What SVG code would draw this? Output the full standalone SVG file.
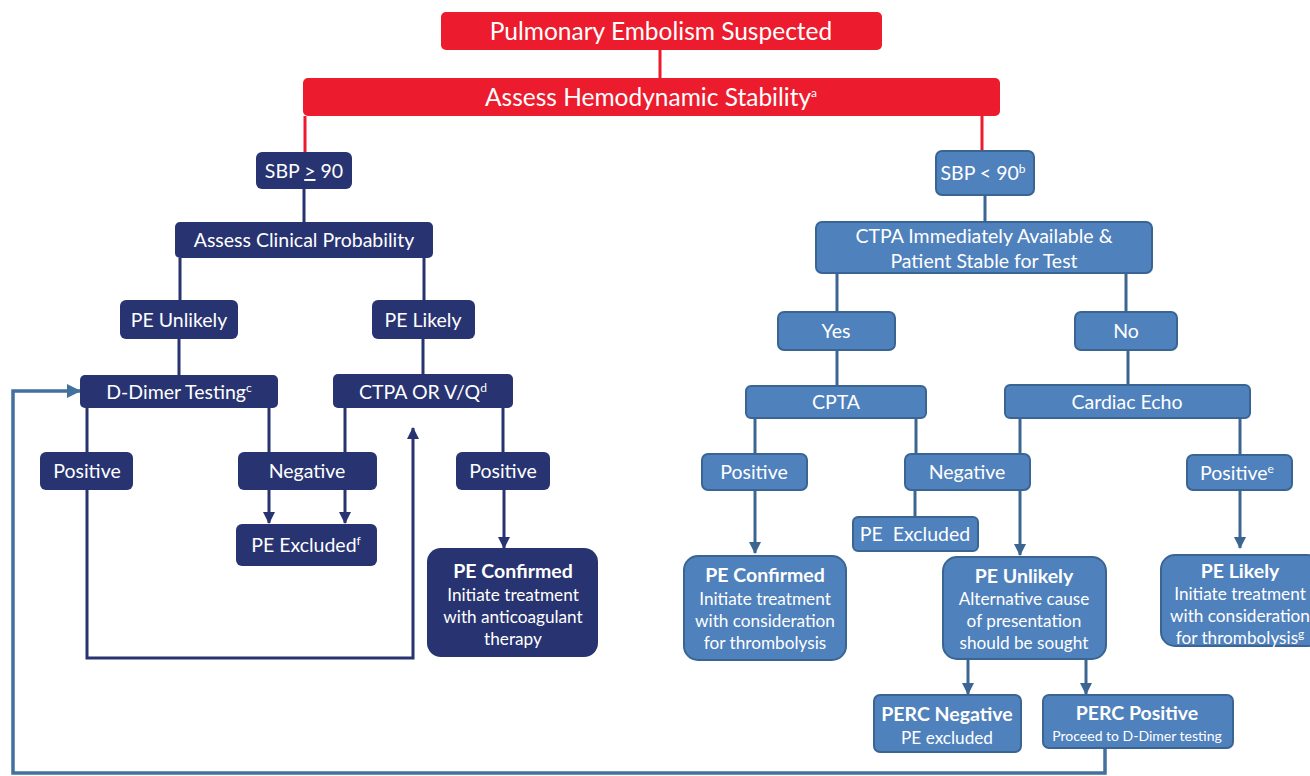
<svg xmlns="http://www.w3.org/2000/svg" width="1310" height="776" viewBox="0 0 1310 776">
<defs>
<style>
text{font-family:Lato,"Open Sans","Liberation Sans",sans-serif;fill:#fff;text-anchor:middle}
.red{fill:#EC1C2E}
.navy{fill:#283371}
.blue{fill:#4F81BD;stroke:#3A6593;stroke-width:2}
.t22{font-size:24.5px}
.t18{font-size:19.5px}
.t16{font-size:17.2px}
.t13{font-size:14px}
.b{font-weight:bold}
.sup{font-size:12px}
.lr{stroke:#EC1C2E;stroke-width:3;fill:none}
.ln{stroke:#283371;stroke-width:3;fill:none}
.lb{stroke:#3D6592;stroke-width:3;fill:none}
.lf{stroke:#41719C;stroke-width:3.5;fill:none}
</style>
<marker id="an" markerUnits="userSpaceOnUse" markerWidth="12" markerHeight="12" refX="11" refY="6" orient="auto"><path d="M0,0 L12,6 L0,12 z" fill="#283371"/></marker>
<marker id="ab" markerUnits="userSpaceOnUse" markerWidth="12" markerHeight="12" refX="11" refY="6" orient="auto"><path d="M0,0 L12,6 L0,12 z" fill="#3D6592"/></marker>
<marker id="af" markerUnits="userSpaceOnUse" markerWidth="14" markerHeight="14" refX="13" refY="7" orient="auto"><path d="M0,0 L14,7 L0,14 z" fill="#41719C"/></marker>
</defs>
<rect width="1310" height="776" fill="#fff"/>
<g id="connectors">
<path class="lr" d="M660,50V78 M305,116V153 M982,116V152"/>
<path class="ln" d="M304,189V222 M180,258V300 M424,258V300 M179,339V375 M423,339V374 M87,408V452 M269,408V452 M345,408V452 M503,408V452"/>
<path class="ln" marker-end="url(#an)" d="M269,490V523"/>
<path class="ln" marker-end="url(#an)" d="M345,490V523"/>
<path class="ln" marker-end="url(#an)" d="M504,490V548"/>
<path class="ln" marker-end="url(#an)" d="M87,490V658H413V428"/>
<path class="lb" d="M985,195V222 M837,273V312 M1126,273V312 M837,350V386 M1128,350V385 M755,418V454 M916,418V454 M1020,418V454 M1240,418V455 M915,490V517"/>
<path class="lb" marker-end="url(#ab)" d="M755,490V553"/>
<path class="lb" marker-end="url(#ab)" d="M1020,490V555"/>
<path class="lb" marker-end="url(#ab)" d="M1240,490V548"/>
<path class="lb" marker-end="url(#ab)" d="M968,659V694"/>
<path class="lb" marker-end="url(#ab)" d="M1086,659V694"/>
<path class="lf" marker-end="url(#af)" d="M1105,748V773H13V391H80"/>
</g>
<g id="pe-suspected"><rect class="red" x="441" y="12" width="441" height="38" rx="5"/><text class="t22" x="661" y="40">Pulmonary Embolism Suspected</text></g>
<g id="assess-hemo"><rect class="red" x="303" y="78" width="697" height="38" rx="5"/><text class="t22" x="651" y="106">Assess Hemodynamic Stability<tspan class="sup" dy="-9">a</tspan></text></g>
<g id="sbp-ge-90"><rect class="navy" x="256" y="152" width="96" height="37" rx="6"/><text class="t18" x="304" y="178">SBP <tspan text-decoration="underline">&gt;</tspan> 90</text></g>
<g id="assess-clinical"><rect class="navy" x="175" y="222" width="258" height="36" rx="5"/><text class="t18" x="304" y="247">Assess Clinical Probability</text></g>
<g id="pe-unlikely-l"><rect class="navy" x="120" y="300" width="118" height="39" rx="6"/><text class="t18" x="179" y="327">PE Unlikely</text></g>
<g id="pe-likely-l"><rect class="navy" x="372" y="300" width="103" height="39" rx="6"/><text class="t18" x="423" y="327">PE Likely</text></g>
<g id="d-dimer"><rect class="navy" x="80" y="375" width="198" height="33" rx="5"/><text class="t18" x="179" y="399">D-Dimer Testing<tspan class="sup" dy="-7">c</tspan></text></g>
<g id="ctpa-vq"><rect class="navy" x="333" y="374" width="180" height="34" rx="5"/><text class="t18" x="423" y="399">CTPA OR V/Q<tspan class="sup" dy="-7">d</tspan></text></g>
<g id="positive-l1"><rect class="navy" x="40" y="452" width="93" height="38" rx="6"/><text class="t18" x="87" y="478">Positive</text></g>
<g id="negative-l"><rect class="navy" x="238" y="452" width="139" height="38" rx="6"/><text class="t18" x="307" y="478">Negative</text></g>
<g id="positive-l2"><rect class="navy" x="456" y="452" width="94" height="38" rx="6"/><text class="t18" x="503" y="478">Positive</text></g>
<g id="pe-excluded-l"><rect class="navy" x="236" y="524" width="141" height="42" rx="6"/><text class="t18" x="306" y="552">PE Excluded<tspan class="sup" dy="-7">f</tspan></text></g>
<g id="pe-confirmed-l"><rect class="navy" x="427" y="548" width="171" height="109" rx="14"/><text class="t18 b" x="513" y="578">PE Confirmed</text><text class="t16" x="513" y="601">Initiate treatment</text><text class="t16" x="513" y="623">with anticoagulant</text><text class="t16" x="513" y="645">therapy</text></g>
<g id="sbp-lt-90"><rect class="blue" x="936" y="151" width="98" height="44" rx="6"/><text class="t18" x="983" y="180">SBP &lt; 90<tspan class="sup" dy="-7">b</tspan></text></g>
<g id="ctpa-available"><rect class="blue" x="816" y="222" width="336" height="51" rx="6"/><text class="t18" x="984" y="243">CTPA Immediately Available &amp;</text><text class="t18" x="984" y="268">Patient Stable for Test</text></g>
<g id="yes"><rect class="blue" x="778" y="312" width="117" height="38" rx="6"/><text class="t18" x="836" y="338">Yes</text></g>
<g id="no"><rect class="blue" x="1075" y="312" width="102" height="38" rx="6"/><text class="t18" x="1126" y="338">No</text></g>
<g id="cpta"><rect class="blue" x="746" y="386" width="180" height="32" rx="5"/><text class="t18" x="836" y="409">CPTA</text></g>
<g id="cardiac-echo"><rect class="blue" x="1005" y="385" width="245" height="33" rx="5"/><text class="t18" x="1127" y="409">Cardiac Echo</text></g>
<g id="positive-r1"><rect class="blue" x="702" y="454" width="105" height="36" rx="6"/><text class="t18" x="754" y="479">Positive</text></g>
<g id="negative-r"><rect class="blue" x="905" y="454" width="125" height="36" rx="6"/><text class="t18" x="967" y="479">Negative</text></g>
<g id="positive-r2"><rect class="blue" x="1187" y="455" width="105" height="35" rx="6"/><text class="t18" x="1237" y="480">Positive<tspan class="sup" dy="-7">e</tspan></text></g>
<g id="pe-excluded-r"><rect class="blue" x="853" y="517" width="125" height="34" rx="5"/><text class="t18" x="915" y="541" xml:space="preserve">PE  Excluded</text></g>
<g id="pe-confirmed-r"><rect class="blue" x="684" y="556" width="162" height="104" rx="14"/><text class="t18 b" x="765" y="582">PE Confirmed</text><text class="t16" x="765" y="605">Initiate treatment</text><text class="t16" x="765" y="627">with consideration</text><text class="t16" x="765" y="649">for thrombolysis</text></g>
<g id="pe-unlikely-r"><rect class="blue" x="943" y="557" width="163" height="102" rx="14"/><text class="t18 b" x="1024" y="583">PE Unlikely</text><text class="t16" x="1024" y="605">Alternative cause</text><text class="t16" x="1024" y="627">of presentation</text><text class="t16" x="1024" y="649">should be sought</text></g>
<g id="pe-likely-r"><rect class="blue" x="1161" y="555" width="160" height="91" rx="14"/><text class="t18 b" x="1240" y="578">PE Likely</text><text class="t16" x="1240" y="600">Initiate treatment</text><text class="t16" x="1240" y="622">with consideration</text><text class="t16" x="1240" y="644">for thrombolysis<tspan class="sup" dy="-6">g</tspan></text></g>
<g id="perc-negative"><rect class="blue" x="874" y="695" width="147" height="57" rx="6"/><text class="t18 b" x="947" y="721">PERC Negative</text><text class="t16" x="947" y="744">PE excluded</text></g>
<g id="perc-positive"><rect class="blue" x="1043" y="695" width="190" height="53" rx="6"/><text class="t18 b" x="1137" y="720">PERC Positive</text><text class="t13" x="1137" y="741">Proceed to D-Dimer testing</text></g>
</svg>
